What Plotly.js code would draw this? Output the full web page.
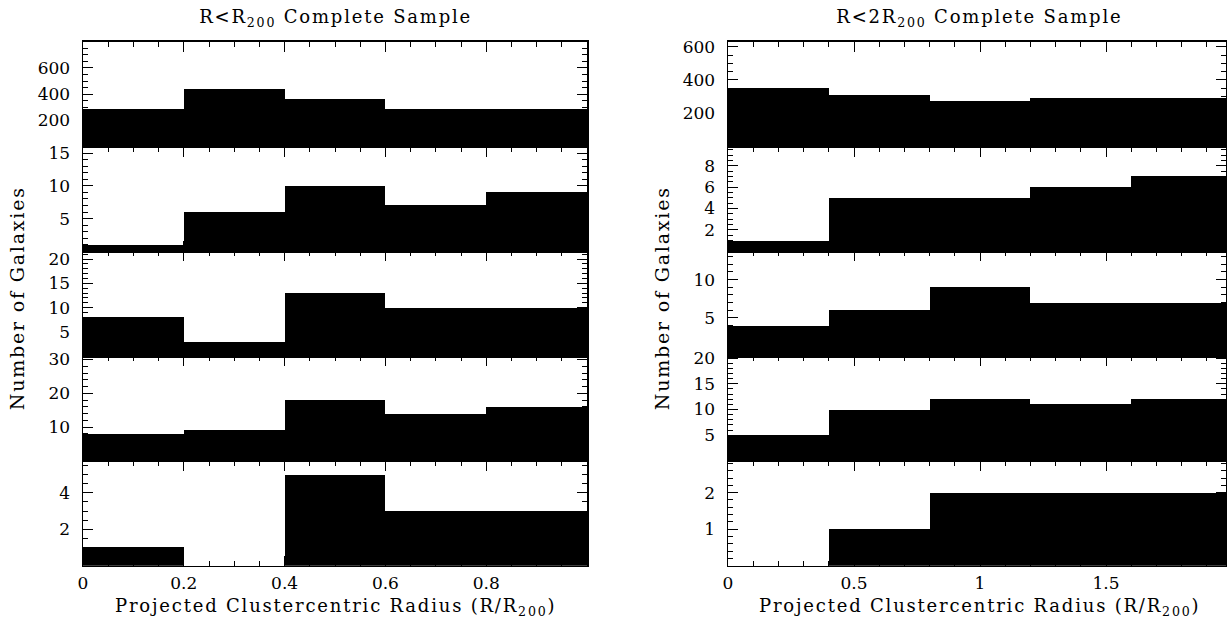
<!DOCTYPE html>
<html>
<head>
<meta charset="utf-8">
<script src="https://cdn.plot.ly/plotly-3.0.1.min.js"></script>
<style>
html,body{margin:0;padding:0;background:#fff;}
#chart{width:1227px;height:620px;}
#chart .annotation-text{letter-spacing:1.8px;}
</style>
</head>
<body>
<div id="chart"></div>
<script>
// ---- data ----
const leftEdges  = [0, 0.2, 0.4, 0.6, 0.8, 1.0];
const rightEdges = [0, 0.4, 0.8, 1.2, 1.6, 2.0];

const leftP1 = [290, 440, 360, 290, 283];
const leftP2 = [1, 6, 10, 7, 9];
const leftP3 = [8, 3, 13, 10, 10];
const leftP4 = [8, 9, 18, 14, 16];
const leftP5 = [1, 0, 5, 3, 3];

const rightP1 = [350, 310, 275, 292, 290];
const rightP2 = [1, 5, 5, 6, 7];
const rightP3 = [4, 6, 9, 7, 7];
const rightP4 = [5, 10, 12, 11, 12];
const rightP5 = [0, 1, 2, 2, 2];

const leftYTicks  = [[200, 400, 600], [5, 10, 15], [5, 10, 15, 20], [10, 20, 30], [2, 4]];
const rightYTicks = [[200, 400, 600], [2, 4, 6, 8], [5, 10], [5, 10, 15, 20], [1, 2]];
const leftXTicks  = [0, 0.2, 0.4, 0.6, 0.8];
const rightXTicks = [0, 0.5, 1, 1.5];

const leftTitle  = "R&lt;R<sub>200</sub> Complete Sample";
const rightTitle = "R&lt;2R<sub>200</sub> Complete Sample";
const xTitle = "Projected Clustercentric Radius (R/R<sub>200</sub>)";
const yTitle = "Number of Galaxies";

// ---- styling / geometry ----
const W = 1227, H = 620;
const FONT = "DejaVu Serif";
const leftPx = [83, 587], rightPx = [728, 1226];
const topPx = 41.7, panelH = 104.8;
const leftYRange  = [[0, 800], [0, 16], [0, 21.6], [0, 31], [0, 5.75]];
const rightYRange = [[0, 630], [0, 9.8], [0, 13.7], [0, 20.4], [0, 2.87]];
const leftYMinor  = [50, 1, 1, 2, 0.5];
const rightYMinor = [50, 0.5, 1, 1, 0.2];
const leftXRange = [0, 1.0], rightXRange = [0, 1.976];

function centers(e){ const c=[]; for(let i=0;i<e.length-1;i++) c.push((e[i]+e[i+1])/2); return c; }
function widths(e){ const w=[]; for(let i=0;i<e.length-1;i++) w.push(e[i+1]-e[i]); return w; }
function ydom(i){ const t = topPx + i*panelH, b = t + panelH; return [1 - b/H, 1 - t/H]; }

const leftSeries = [leftP1, leftP2, leftP3, leftP4, leftP5];
const rightSeries = [rightP1, rightP2, rightP3, rightP4, rightP5];

const data = [];
const layout = {
  width: W, height: H,
  margin: {l:0, r:0, t:0, b:0},
  paper_bgcolor: "#fff", plot_bgcolor: "#fff",
  showlegend: false, bargap: 0,
  font: {family: FONT, size: 17, color: "#000"},
  annotations: []
};

let n = 0;
function addPanel(side, i){
  n += 1;
  const isLeft = side === "L";
  const edges = isLeft ? leftEdges : rightEdges;
  const vals = isLeft ? leftSeries[i] : rightSeries[i];
  const xs = n === 1 ? "" : String(n);
  data.push({
    type: "bar", x: centers(edges), y: vals, width: widths(edges),
    marker: {color: "#000", line: {width: 0}},
    xaxis: "x" + xs, yaxis: "y" + xs, hoverinfo: "x+y"
  });
  const px = isLeft ? leftPx : rightPx;
  const bottom = i === 4;
  layout["xaxis" + xs] = {
    domain: [px[0]/W, px[1]/W], anchor: "y" + xs,
    range: isLeft ? leftXRange : rightXRange,
    tickmode: "array", tickvals: isLeft ? leftXTicks : rightXTicks,
    showticklabels: bottom, ticks: "inside", ticklen: 10, tickwidth: 1, tickcolor: "#000",
    ticklabelstandoff: 1,
    minor: {ticks: "inside", ticklen: 5, tickwidth: 1, tickcolor: "#000", tick0: 0, dtick: isLeft ? 0.05 : 0.1, showgrid: false},
    mirror: "allticks", showline: true, linecolor: "#000", linewidth: 1.5,
    showgrid: false, zeroline: false, fixedrange: true,
    tickfont: {family: FONT, size: 17, color: "#000"}
  };
  layout["yaxis" + xs] = {
    domain: ydom(i), anchor: "x" + xs,
    range: isLeft ? leftYRange[i] : rightYRange[i],
    tickmode: "array", tickvals: isLeft ? leftYTicks[i] : rightYTicks[i],
    ticks: "inside", ticklen: 10, tickwidth: 1, tickcolor: "#000",
    ticklabelstandoff: 8,
    minor: {ticks: "inside", ticklen: 5, tickwidth: 1, tickcolor: "#000", tick0: 0, dtick: isLeft ? leftYMinor[i] : rightYMinor[i], showgrid: false},
    mirror: "allticks", showline: true, linecolor: "#000", linewidth: 1.5,
    showgrid: false, zeroline: false, fixedrange: true,
    tickfont: {family: FONT, size: 17, color: "#000"}
  };
}
for (let i = 0; i < 5; i++) addPanel("L", i);
for (let i = 0; i < 5; i++) addPanel("R", i);

const ann = (text, x, y, size, angle) => ({
  text: text, x: x, y: y, xref: "paper", yref: "paper",
  xanchor: "center", yanchor: "middle", showarrow: false, textangle: angle || 0,
  font: {family: FONT, size: size, color: "#000"}
});
layout.annotations.push(ann(leftTitle, (leftPx[0]+leftPx[1])/2/W, 1 - 18/H, 18));
layout.annotations.push(ann(rightTitle, (rightPx[0]+1231)/2/W, 1 - 18/H, 18));
layout.annotations.push(ann(xTitle, (leftPx[0]+leftPx[1])/2/W, 1 - 607/H, 18));
layout.annotations.push(ann(xTitle, (rightPx[0]+1231)/2/W, 1 - 607/H, 18));
layout.annotations.push(ann(yTitle, 17/W, 1 - 298/H, 19, -90));
layout.annotations.push(ann(yTitle, 662/W, 1 - 298/H, 19, -90));

Plotly.newPlot("chart", data, layout, {staticPlot: true, displayModeBar: false});
</script>
</body>
</html>
